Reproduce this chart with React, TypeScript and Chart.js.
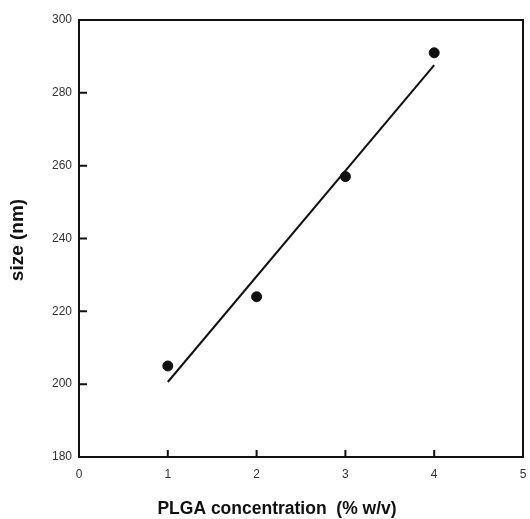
import React, { useEffect, useRef } from "react";
import { Chart, registerables } from "chart.js";

Chart.register(...registerables);

const concentration = [1, 2, 3, 4];
const sizeNm = [205, 224, 257, 291];
const fitX = [1, 4];
const fitY = [200.6, 287.6];
const xTicks = [0, 1, 2, 3, 4, 5];
const yTicks = [180, 200, 220, 240, 260, 280, 300];
const xTitle = "PLGA concentration  (% w/v)";
const yTitle = "size (nm)";

const inwardTicks = {
  id: "inwardTicks",
  afterDraw(chart: any) {
    const { ctx, chartArea, scales } = chart;
    const x = scales.x;
    const y = scales.y;
    ctx.save();
    ctx.strokeStyle = "#111";
    ctx.lineWidth = 2;
    ctx.beginPath();
    xTicks.forEach((v) => {
      const px = x.getPixelForValue(v);
      if (v === 0 || v === 5) return;
      ctx.moveTo(px, chartArea.bottom);
      ctx.lineTo(px, chartArea.bottom - 7);
    });
    yTicks.forEach((v) => {
      const py = y.getPixelForValue(v);
      if (v === 180 || v === 300) return;
      ctx.moveTo(chartArea.left, py);
      ctx.lineTo(chartArea.left + 8, py);
    });
    ctx.stroke();
    ctx.lineWidth = 2;
    ctx.strokeRect(chartArea.left, chartArea.top, chartArea.right - chartArea.left, chartArea.bottom - chartArea.top);
    ctx.fillStyle = "#111";
    ctx.textAlign = "center";
    ctx.textBaseline = "middle";
    ctx.font = "bold 17.5px 'Liberation Sans', Arial, sans-serif";
    ctx.fillText(xTitle, 277, 509);
    ctx.translate(18, 240);
    ctx.rotate(-Math.PI / 2);
    ctx.font = "bold 19px 'Liberation Sans', Arial, sans-serif";
    ctx.fillText(yTitle, 0, 0);
    ctx.restore();
  },
};

export default function App() {
  const ref = useRef<HTMLCanvasElement>(null);
  useEffect(() => {
    if (!ref.current) return;
    const chart = new Chart(ref.current, {
      type: "scatter",
      data: {
        datasets: [
          {
            label: "size",
            data: concentration.map((c, i) => ({ x: c, y: sizeNm[i] })),
            backgroundColor: "#111",
            borderColor: "#111",
            pointRadius: 5,
            pointHoverRadius: 5,
          },
          {
            label: "fit",
            type: "line",
            data: fitX.map((c, i) => ({ x: c, y: fitY[i] })),
            borderColor: "#111",
            borderWidth: 2,
            pointRadius: 0,
            fill: false,
          } as any,
        ],
      },
      options: {
        animation: false,
        responsive: false,
        maintainAspectRatio: false,
        layout: { padding: { left: 0, top: 20, right: 7, bottom: 0 } },
        plugins: { legend: { display: false }, tooltip: { enabled: false } },
        scales: {
          x: {
            type: "linear",
            min: 0,
            max: 5,
            afterBuildTicks: (s: any) => {
              s.ticks = xTicks.map((v) => ({ value: v }));
            },
            afterFit: (s: any) => {
              s.height = 62;
              s.paddingRight = 0;
              s.paddingLeft = 0;
            },
            grid: { display: false, drawTicks: false },
            border: { display: false },
            ticks: {
              color: "#333",
              font: { size: 12, family: "'Liberation Sans', Arial, sans-serif" },
              padding: 10,
            },
          },
          y: {
            type: "linear",
            min: 180,
            max: 300,
            afterBuildTicks: (s: any) => {
              s.ticks = yTicks.map((v) => ({ value: v }));
            },
            afterFit: (s: any) => {
              s.width = 79;
              s.paddingTop = 0;
              s.paddingBottom = 0;
            },
            grid: { display: false, drawTicks: false },
            border: { display: false },
            ticks: {
              color: "#333",
              font: { size: 12, family: "'Liberation Sans', Arial, sans-serif" },
              padding: 7,
            },
          },
        },
      },
      plugins: [inwardTicks],
    });
    return () => chart.destroy();
  }, []);
  return (
    <div style={{ position: "fixed", left: 0, top: 0, width: 530, height: 519, background: "#fff" }}>
      <canvas ref={ref} width={530} height={519} style={{ width: 530, height: 519 }} />
    </div>
  );
}
